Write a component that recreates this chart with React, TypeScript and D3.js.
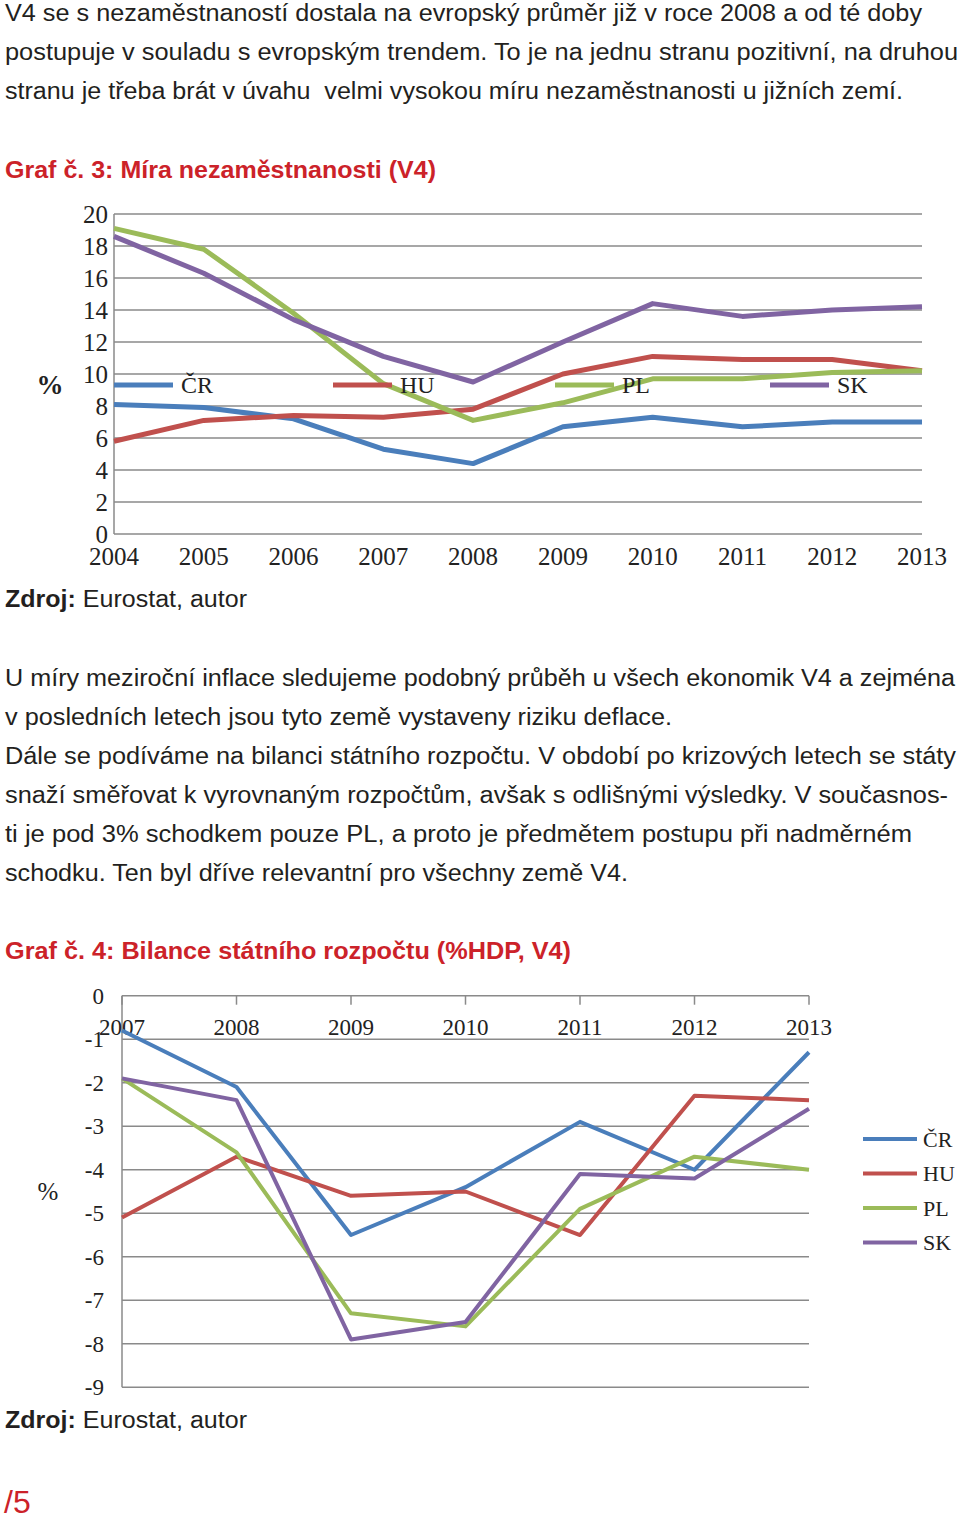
import React from "react";
import * as d3 from "d3";

// ---------- Data ----------
const years1 = [2004, 2005, 2006, 2007, 2008, 2009, 2010, 2011, 2012, 2013];
const unempCR = [8.1, 7.9, 7.2, 5.3, 4.4, 6.7, 7.3, 6.7, 7.0, 7.0];
const unempHU = [5.8, 7.1, 7.4, 7.3, 7.8, 10.0, 11.1, 10.9, 10.9, 10.2];
const unempPL = [19.1, 17.8, 13.8, 9.4, 7.1, 8.2, 9.7, 9.7, 10.1, 10.2];
const unempSK = [18.6, 16.3, 13.4, 11.1, 9.5, 12.0, 14.4, 13.6, 14.0, 14.2];
const yTicks1 = [0, 2, 4, 6, 8, 10, 12, 14, 16, 18, 20];

const years2 = [2007, 2008, 2009, 2010, 2011, 2012, 2013];
const budgetCR = [-0.8, -2.1, -5.5, -4.4, -2.9, -4.0, -1.3];
const budgetHU = [-5.1, -3.7, -4.6, -4.5, -5.5, -2.3, -2.4];
const budgetPL = [-1.9, -3.6, -7.3, -7.6, -4.9, -3.7, -4.0];
const budgetSK = [-1.9, -2.4, -7.9, -7.5, -4.1, -4.2, -2.6];
const yTicks2 = [0, -1, -2, -3, -4, -5, -6, -7, -8, -9];

const seriesNames = ["ČR", "HU", "PL", "SK"];
const colors = ["#4a7ebb", "#c0504d", "#9bbb59", "#8064a2"];

const para1 = [
  "V4 se s nezaměstnaností dostala na evropský průměr již v roce 2008 a od té doby",
  "postupuje v souladu s evropským trendem. To je na jednu stranu pozitivní, na druhou",
  "stranu je třeba brát v úvahu  velmi vysokou míru nezaměstnanosti u jižních zemí.",
];
const para1W = [917, 953, 898];
const para2 = [
  "U míry meziroční inflace sledujeme podobný průběh u všech ekonomik V4 a zejména",
  "v posledních letech jsou tyto země vystaveny riziku deflace.",
  "Dále se podíváme na bilanci státního rozpočtu. V období po krizových letech se státy",
  "snaží směřovat k vyrovnaným rozpočtům, avšak s odlišnými výsledky. V současnos-",
  "ti je pod 3% schodkem pouze PL, a proto je předmětem postupu při nadměrném",
  "schodku. Ten byl dříve relevantní pro všechny země V4.",
];
const para2W = [950, 667, 951, 943, 907, 623];

const RED = "#cc2229";
const SANS = "'Liberation Sans', Arial, Helvetica, sans-serif";
const SERIF = "'Liberation Serif', 'Times New Roman', serif";
const GRID = "#8a8a8a";
const FS = 23.5;

export default function App() {
  // Chart 1 scales
  const x1 = d3.scaleLinear().domain([2004, 2013]).range([114, 922]);
  const y1 = d3.scaleLinear().domain([0, 20]).range([534, 214]);
  const line1 = d3
    .line<number>()
    .x((_, i) => x1(years1[i]))
    .y((d) => y1(d));
  const series1 = [unempCR, unempHU, unempPL, unempSK];
  const legend1X = [114, 333, 555, 770];

  // Chart 2 scales
  const x2 = d3.scaleLinear().domain([2007, 2013]).range([122, 809]);
  const y2 = d3.scaleLinear().domain([0, -9]).range([995.7, 1387.3]);
  const line2 = d3
    .line<number>()
    .x((_, i) => x2(years2[i]))
    .y((d) => y2(d));
  const series2 = [budgetCR, budgetHU, budgetPL, budgetSK];

  return (
    <svg
      width={960}
      height={1523}
      style={{ position: "absolute", left: 0, top: 0, display: "block", background: "#fff" }}
    >
      <rect x={0} y={0} width={960} height={1523} fill="#fff" />
      {/* Paragraph 1 */}
      {para1.map((t, i) => (
        <text
          key={"p1" + i}
          x={5}
          y={21 + i * 39}
          fontFamily={SANS}
          fontSize={FS}
          fill="#231f20"
          textLength={para1W[i]}
          lengthAdjust="spacingAndGlyphs"
          style={{ whiteSpace: "pre" }}
        >
          {t}
        </text>
      ))}
      <text x={5} y={178} fontFamily={SANS} fontSize={FS} fontWeight="bold" fill={RED} textLength={431} lengthAdjust="spacingAndGlyphs">
        Graf č. 3: Míra nezaměstnanosti (V4)
      </text>

      {/* Chart 1 */}
      <g>
        {yTicks1.map((t) => (
          <g key={"g1" + t}>
            <line x1={114} x2={922} y1={y1(t)} y2={y1(t)} stroke={GRID} strokeWidth={1.5} />
            <text x={108} y={y1(t)} dy="0.35em" textAnchor="end" fontFamily={SERIF} fontSize={25} fill="#222">
              {t}
            </text>
          </g>
        ))}
        <line x1={114} x2={114} y1={214} y2={534} stroke={GRID} strokeWidth={1.5} />
        {years1.map((yr) => (
          <text key={"x1" + yr} x={x1(yr)} y={565} textAnchor="middle" fontFamily={SERIF} fontSize={25} fill="#222">
            {yr}
          </text>
        ))}
        <text x={50} y={385} dy="0.35em" textAnchor="middle" fontFamily={SERIF} fontSize={27} fontWeight="bold" fill="#222">
          %
        </text>
        {series1.map((s, i) => (
          <path key={"s1" + i} d={line1(s) || ""} fill="none" stroke={colors[i]} strokeWidth={5} strokeLinejoin="round" />
        ))}
        {seriesNames.map((n, i) => (
          <g key={"l1" + n}>
            <line x1={legend1X[i]} x2={legend1X[i] + 59} y1={385} y2={385} stroke={colors[i]} strokeWidth={5} />
            <text x={legend1X[i] + 67} y={385} dy="0.35em" fontFamily={SERIF} fontSize={24} fill="#222">
              {n}
            </text>
          </g>
        ))}
      </g>

      <text x={5} y={607} fontFamily={SANS} fontSize={FS} fill="#231f20" textLength={242} lengthAdjust="spacingAndGlyphs">
        <tspan fontWeight="bold">Zdroj:</tspan> Eurostat, autor
      </text>

      {/* Paragraph 2 */}
      {para2.map((t, i) => (
        <text
          key={"p2" + i}
          x={5}
          y={686 + i * 39}
          fontFamily={SANS}
          fontSize={FS}
          fill="#231f20"
          textLength={para2W[i]}
          lengthAdjust="spacingAndGlyphs"
        >
          {t}
        </text>
      ))}
      <text x={5} y={959} fontFamily={SANS} fontSize={FS} fontWeight="bold" fill={RED} textLength={566} lengthAdjust="spacingAndGlyphs">
        Graf č. 4: Bilance státního rozpočtu (%HDP, V4)
      </text>

      {/* Chart 2 */}
      <g>
        {yTicks2.map((t) => (
          <g key={"g2" + t}>
            <line x1={122} x2={809} y1={y2(t)} y2={y2(t)} stroke={GRID} strokeWidth={1.5} />
            <text x={104} y={y2(t)} dy="0.35em" textAnchor="end" fontFamily={SERIF} fontSize={23} fill="#222">
              {t === 0 ? "0" : "-" + Math.abs(t)}
            </text>
          </g>
        ))}
        <line x1={122} x2={122} y1={y2(0)} y2={y2(-9)} stroke={GRID} strokeWidth={1.5} />
        {years2.map((yr) => (
          <g key={"x2" + yr}>
            <line x1={x2(yr)} x2={x2(yr)} y1={y2(0)} y2={y2(0) + 9} stroke={GRID} strokeWidth={1.5} />
            <text x={x2(yr)} y={1027} dy="0.35em" textAnchor="middle" fontFamily={SERIF} fontSize={23} fill="#222">
              {yr}
            </text>
          </g>
        ))}
        <text x={48} y={1191} dy="0.35em" textAnchor="middle" fontFamily={SERIF} fontSize={25} fill="#222">
          %
        </text>
        {series2.map((s, i) => (
          <path key={"s2" + i} d={line2(s) || ""} fill="none" stroke={colors[i]} strokeWidth={4} strokeLinejoin="round" />
        ))}
        {seriesNames.map((n, i) => (
          <g key={"l2" + n}>
            <line x1={863} x2={917} y1={1139 + i * 34.5} y2={1139 + i * 34.5} stroke={colors[i]} strokeWidth={4} />
            <text x={923} y={1139 + i * 34.5} dy="0.35em" fontFamily={SERIF} fontSize={22} fill="#222">
              {n}
            </text>
          </g>
        ))}
      </g>

      <text x={5} y={1428} fontFamily={SANS} fontSize={FS} fill="#231f20" textLength={242} lengthAdjust="spacingAndGlyphs">
        <tspan fontWeight="bold">Zdroj:</tspan> Eurostat, autor
      </text>
      <text x={4} y={1513} fontFamily={SANS} fontSize={32} fill={RED}>
        /5
      </text>
    </svg>
  );
}
